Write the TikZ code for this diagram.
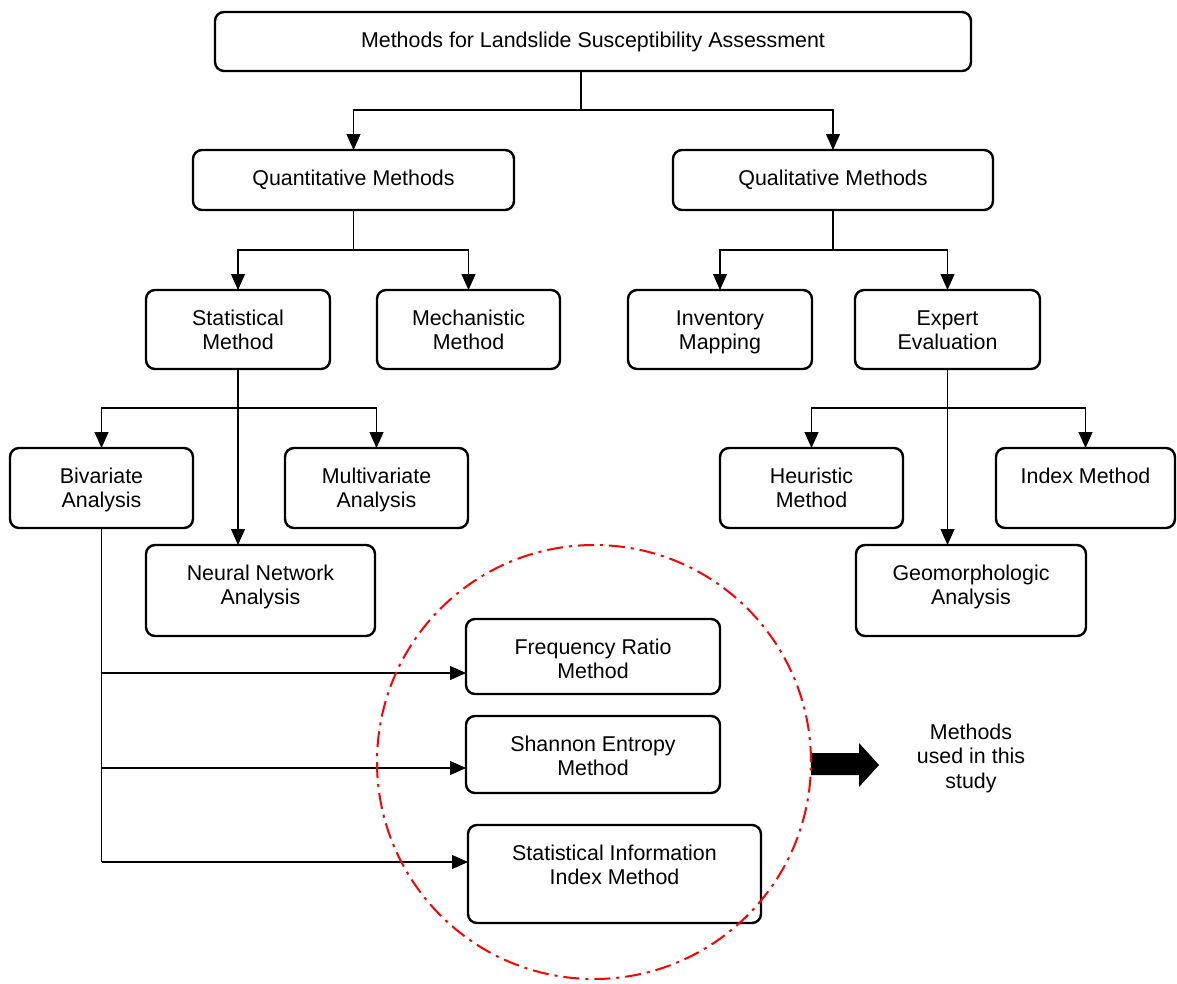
\documentclass[tikz,border=0pt]{standalone}
\usepackage{fontspec}
\setmainfont{Liberation Sans}
\usetikzlibrary{arrows.meta}
\newcommand{\methtext}[3]{\parbox[c][#2pt][t]{#1pt}{\centering\rule{0pt}{35pt}#3}}

\begin{document}
\begin{tikzpicture}[x=1pt,y=-1pt,
  every node/.style={font=\fontsize{21.4}{24.5}\selectfont},
  method/.style={draw,rounded corners=9pt,line width=2.4pt,inner sep=0pt,outer sep=0pt}]

\useasboundingbox (0,0) rectangle (1177,983);

\node[method] (top) at (593,41.5) {\methtext{756}{59}{Methods for Landslide Susceptibility Assessment}};
\node[method] (quan) at (353.5,180) {\methtext{321}{60}{Quantitative Methods}};
\node[method] (qual) at (833,180) {\methtext{320}{60}{Qualitative Methods}};
\node[method] (stat) at (238,329.5) {\methtext{184}{79}{Statistical\\Method}};
\node[method] (mech) at (468.5,329.5) {\methtext{183}{79}{Mechanistic\\Method}};
\node[method] (inv) at (720,329.5) {\methtext{184}{79}{Inventory\\Mapping}};
\node[method] (expert) at (947.5,329.5) {\methtext{185}{79}{Expert\\Evaluation}};
\node[method] (biv) at (101.5,488) {\methtext{183}{80}{Bivariate\\Analysis}};
\node[method] (multi) at (376.5,488) {\methtext{183}{80}{Multivariate\\Analysis}};
\node[method] (heur) at (811.5,488) {\methtext{183}{80}{Heuristic\\Method}};
\node[method] (index) at (1085.5,488) {\methtext{179}{80}{Index Method}};
\node[method] (neural) at (260.5,590.5) {\methtext{229}{91}{Neural Network\\Analysis}};
\node[method] (geo) at (971,590.5) {\methtext{230}{91}{Geomorphologic\\Analysis}};
\node[method] (freq) at (593,656.5) {\methtext{254}{75}{Frequency Ratio\\Method}};
\node[method] (shan) at (593,754.5) {\methtext{254}{77}{Shannon Entropy\\Method}};
\node[method] (sii) at (614.5,874) {\methtext{293}{98}{Statistical Information\\Index Method}};
\node[align=center] (used) at (971,758) {Methods\\used in this\\study};

\coordinate (j0) at (581,110);
\coordinate (j1) at (353.5,250);
\coordinate (j2) at (833,250);
\coordinate (j3) at (238,408);
\coordinate (j4) at (947.5,408);
\coordinate (b1) at (101.5,673);
\coordinate (b2) at (101.5,768);
\coordinate (b3) at (101.5,862);

\tikzset{link/.style={line width=1.1pt},
  arr/.style={link,-{Triangle[width=14pt,length=16pt]}},
  study/.style={red,line width=2pt,dash pattern=on 16pt off 6pt on 3pt off 6pt}}

\draw[link] (top.south -| j0) -- (j0);
\draw[arr] (j0) -| (quan);
\draw[arr] (j0) -| (qual);

\draw[link] (quan) -- (j1);
\draw[arr] (j1) -| (stat);
\draw[arr] (j1) -| (mech);
\draw[link] (qual) -- (j2);
\draw[arr] (j2) -| (inv);
\draw[arr] (j2) -| (expert);

\draw[link] (stat) -- (j3);
\draw[arr] (j3) -| (biv);
\draw[arr] (j3) -| (multi);
\draw[arr] (j3) -- (j3 |- neural.north);
\draw[link] (expert) -- (j4);
\draw[arr] (j4) -| (heur);
\draw[arr] (j4) -| (index);
\draw[arr] (j4) -- (j4 |- geo.north);

\draw[link] (biv) -- (b3);
\draw[arr] (b1) -- (b1 -| freq.west);
\draw[arr] (b2) -- (b2 -| shan.west);
\draw[arr] (b3) -- (b3 -| sii.west);

\fill (811,753) -- (859,753) -- (859,743) -- (879,765) -- (859,787) -- (859,775) -- (811,775) -- cycle;
\draw[study] (594,762) circle[radius=217pt];

\end{tikzpicture}
\end{document}
